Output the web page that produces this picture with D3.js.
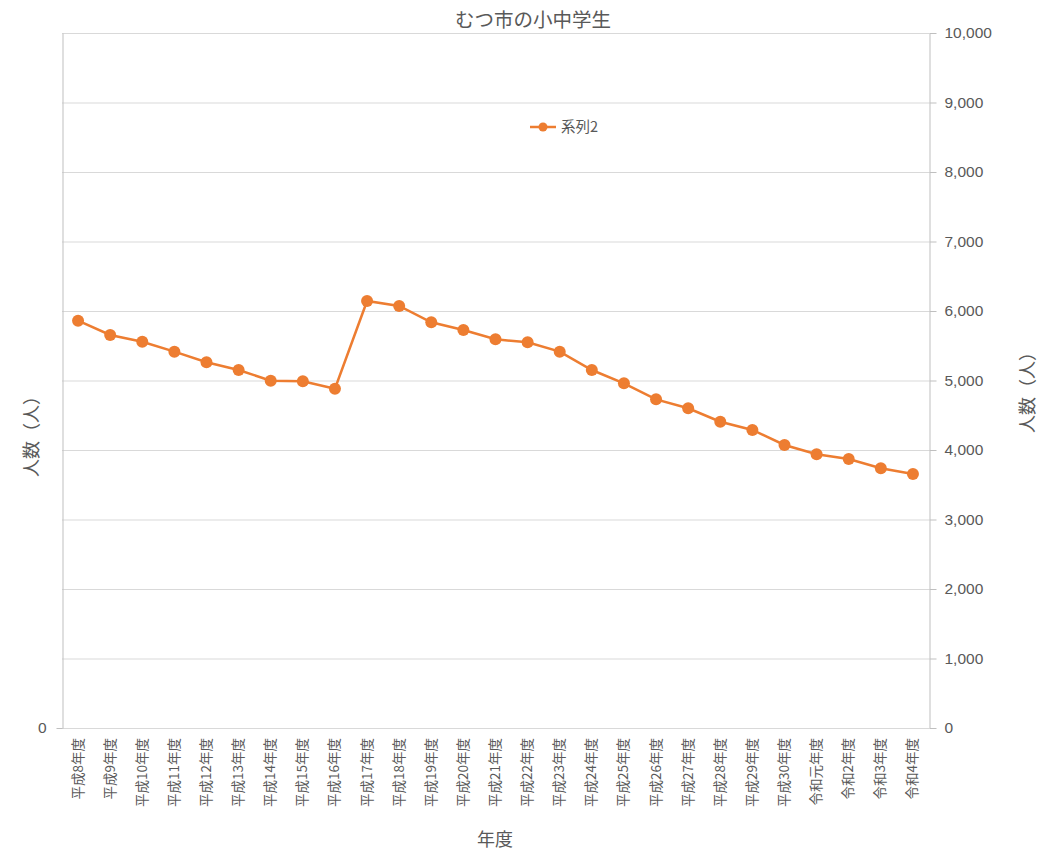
<!DOCTYPE html>
<html lang="ja">
<head>
<meta charset="UTF-8">
<title>むつ市の小中学生</title>
<script src="https://cdnjs.cloudflare.com/ajax/libs/d3/7.9.0/d3.min.js"></script>
<style>
  html, body { margin: 0; padding: 0; background: #fff; }
  svg { display: block; font-family: "Noto Sans CJK JP", "Noto Sans", sans-serif; }
  .grid line { stroke: #d9d9d9; stroke-width: 1; }
  .axis path, .axis line { stroke: #bfbfbf; }
  .axis text { fill: #595959; }
</style>
</head>
<body>
<svg id="chart" width="1051" height="855"></svg>
<script>
// ---- data ----
const years = [
  "平成8年度", "平成9年度", "平成10年度", "平成11年度", "平成12年度", "平成13年度",
  "平成14年度", "平成15年度", "平成16年度", "平成17年度", "平成18年度", "平成19年度",
  "平成20年度", "平成21年度", "平成22年度", "平成23年度", "平成24年度", "平成25年度",
  "平成26年度", "平成27年度", "平成28年度", "平成29年度", "平成30年度", "令和元年度",
  "令和2年度", "令和3年度", "令和4年度"
];
const students = [
  5860, 5655, 5558, 5415, 5262, 5151, 4997, 4990, 4882, 6144, 6072, 5837,
  5727, 5593, 5549, 5415, 5151, 4959, 4729, 4600, 4407, 4288, 4072, 3938,
  3870, 3737, 3655
];
const rightTicks = [0, 1000, 2000, 3000, 4000, 5000, 6000, 7000, 8000, 9000, 10000];
const seriesName = "系列2";

// ---- layout ----
const svg = d3.select("#chart");
const plot = { left: 62, right: 929, top: 33, bottom: 728 };
const orange = "#ED7D31";
const gray = "#595959";

const x = d3.scaleBand().domain(years).range([plot.left, plot.right]);
const y = d3.scaleLinear().domain([0, 10000]).range([plot.bottom, plot.top]);

// gridlines
svg.append("g").attr("class", "grid")
  .selectAll("line").data(rightTicks.filter(d => d > 0)).join("line")
  .attr("x1", plot.left).attr("x2", plot.right)
  .attr("y1", d => y(d) + 0.5).attr("y2", d => y(d) + 0.5);

// bottom axis line
svg.append("line")
  .attr("x1", plot.left).attr("x2", plot.right)
  .attr("y1", plot.bottom + 0.5).attr("y2", plot.bottom + 0.5)
  .attr("stroke", "#d9d9d9");

// left axis (only 0)
const leftAxis = svg.append("g").attr("class", "axis")
  .attr("transform", `translate(${plot.left + 0.5},0)`)
  .call(d3.axisLeft(y).tickValues([0]).tickSize(6).tickSizeOuter(0).tickPadding(10));
leftAxis.selectAll("text").attr("font-size", 15.5);

// right axis
const rightAxis = svg.append("g").attr("class", "axis")
  .attr("transform", `translate(${plot.right + 0.5},0)`)
  .call(d3.axisRight(y).tickValues(rightTicks).tickFormat(d3.format(",")).tickSize(7).tickSizeOuter(0).tickPadding(8));
rightAxis.selectAll("text").attr("font-size", 15.5);

// x category labels (vertical)
svg.append("g").selectAll("text").data(years).join("text")
  .attr("transform", d => `translate(${x(d) + x.bandwidth() / 2 + 4.5},${plot.bottom + 10}) rotate(-90)`)
  .attr("text-anchor", "end")
  .attr("font-size", 13.5)
  .attr("fill", gray)
  .text(d => d);

// line
const line = d3.line()
  .x((d, i) => x(years[i]) + x.bandwidth() / 2)
  .y(d => y(d));
svg.append("path").datum(students)
  .attr("d", line)
  .attr("fill", "none")
  .attr("stroke", orange)
  .attr("stroke-width", 2.5);

svg.append("g").selectAll("circle").data(students).join("circle")
  .attr("cx", (d, i) => x(years[i]) + x.bandwidth() / 2)
  .attr("cy", d => y(d))
  .attr("r", 6)
  .attr("fill", orange);

// title
svg.append("text").attr("x", 533).attr("y", 27)
  .attr("text-anchor", "middle").attr("font-size", 19.5).attr("fill", gray)
  .text("むつ市の小中学生");

// axis titles
svg.append("text").attr("x", 495).attr("y", 846)
  .attr("text-anchor", "middle").attr("font-size", 18).attr("fill", gray)
  .text("年度");
svg.append("text")
  .attr("transform", "translate(38,432) rotate(-90)")
  .attr("text-anchor", "middle").attr("font-size", 18).attr("fill", gray)
  .text("人数（人）");
svg.append("text")
  .attr("transform", "translate(1034,388) rotate(-90)")
  .attr("text-anchor", "middle").attr("font-size", 18).attr("fill", gray)
  .text("人数（人）");

// legend
const lg = svg.append("g").attr("transform", "translate(530,127)");
lg.append("line").attr("x1", 0).attr("x2", 26).attr("y1", 0).attr("y2", 0)
  .attr("stroke", orange).attr("stroke-width", 2.5);
lg.append("circle").attr("cx", 13).attr("cy", 0).attr("r", 4.5).attr("fill", orange);
lg.append("text").attr("x", 31).attr("y", 5).attr("font-size", 14.5).attr("fill", gray)
  .text(seriesName);
</script>
</body>
</html>
